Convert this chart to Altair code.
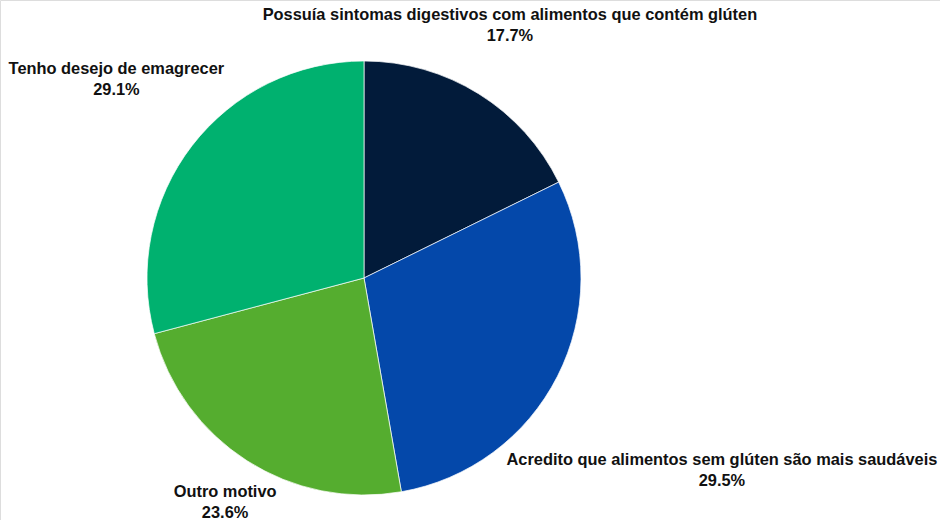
import altair as alt
import pandas as pd
import math

categories = [
    "Possuía sintomas digestivos com alimentos que contém glúten",
    "Acredito que alimentos sem glúten são mais saudáveis",
    "Outro motivo",
    "Tenho desejo de emagrecer",
]
values = [17.7, 29.5, 23.6, 29.1]
colors = ["#021b3a", "#0448aa", "#55ad2f", "#00b16f"]

df = pd.DataFrame({"cat": categories, "value": values, "ord": list(range(len(values)))})

CX, CY, R = 364, 278, 217
LH = 21
# (radius, dx) per label
label_pos = {
    categories[0]: (297, -11),
    categories[1]: (425, -21),
    categories[2]: (267, 5),
    categories[3]: (325, 10),
}

pie = alt.Chart(df).mark_arc(outerRadius=R, stroke="white", strokeWidth=0.7).encode(
    theta=alt.Theta("value:Q", stack=True),
    order=alt.Order("ord:Q"),
    x=alt.value(CX),
    y=alt.value(CY),
    color=alt.Color("cat:N", scale=alt.Scale(domain=categories, range=colors), legend=None),
)

lab_base = alt.Chart(df).transform_joinaggregate(
    total="sum(value)"
).transform_window(
    cum="sum(value)", sort=[alt.SortField("ord")], frame=[None, 0]
).transform_calculate(
    mf="(datum.cum - datum.value / 2) / datum.total",
    lbl="datum.cat + '\\n' + format(datum.value, '.1f') + '%'",
)

layers = [pie]
for c in categories:
    r, dx = label_pos[c]
    t = lab_base.transform_filter(alt.datum.cat == c).mark_text(
        radius=r,
        dx=dx,
        dy=-LH / 2,
        font="Liberation Sans",
        fontWeight="bold",
        fontSize=16.4,
        lineBreak="\n",
        lineHeight=LH,
        align="center",
        baseline="middle",
        color="#111111",
    ).encode(
        theta=alt.Theta("mf:Q", stack=None, scale=alt.Scale(domain=[0, 1], range=[0, 2 * math.pi])),
        x=alt.value(CX),
        y=alt.value(CY),
        text="lbl:N",
    )
    layers.append(t)

chart = alt.layer(*layers).resolve_scale(theta="independent").properties(
    width=940, height=520, autosize=alt.AutoSizeParams(type="none"), padding=0
).configure_view(stroke=None).configure(background="white")

chart.save("out.html", embed_options={"renderer": "svg", "actions": False})
